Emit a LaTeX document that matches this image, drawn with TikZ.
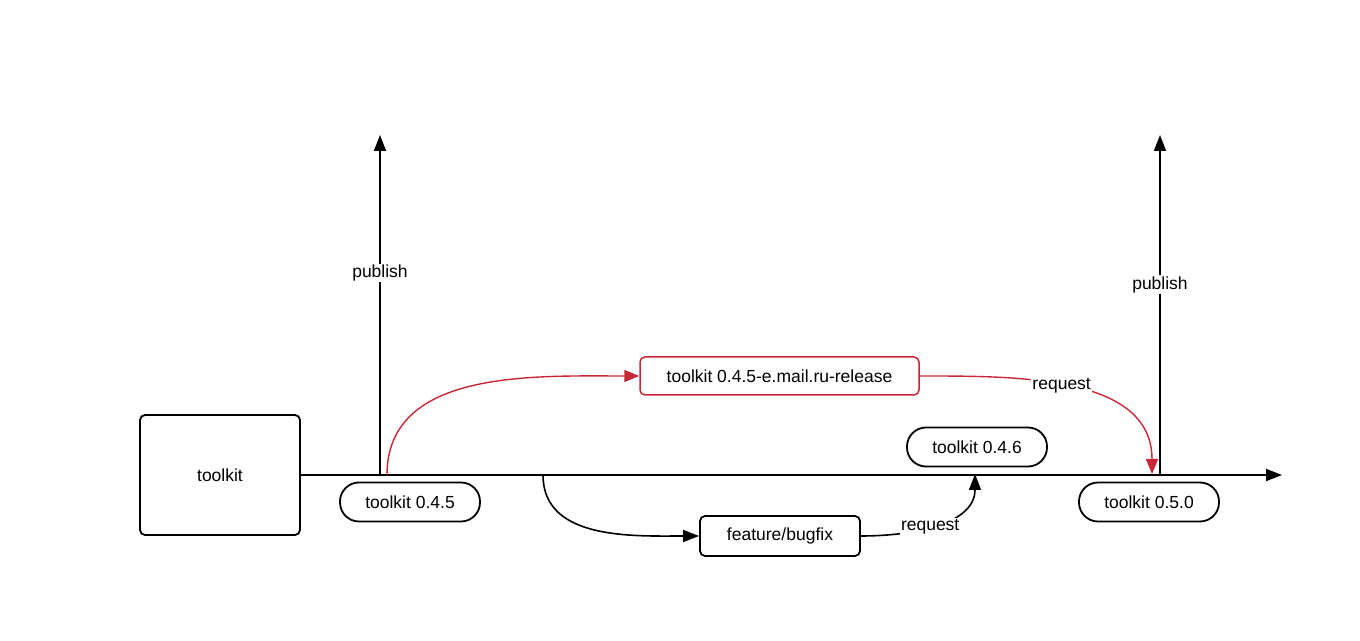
\documentclass[tikz,border=0pt]{standalone}
\usepackage{fontspec}
\setmainfont{Liberation Sans}
\usetikzlibrary{shapes,arrows.meta,positioning}
\definecolor{relred}{RGB}{201,39,56}

\begin{document}
\begin{tikzpicture}[x=1pt,y=1pt,->,>={Triangle[length=16pt,width=12pt]},line width=1.8pt,font=\fontsize{17.5}{21}\selectfont]
                \tikzstyle{repo}=[draw,rounded corners=5pt,minimum width=160pt,minimum height=120pt,inner sep=0pt]
                \tikzstyle{version}=[draw,rounded corners=19pt,minimum width=140pt,minimum height=39pt,inner sep=0pt]
                \tikzstyle{branch}=[draw,rounded corners=5pt,minimum width=160pt,minimum height=40pt,inner sep=0pt]
                \tikzstyle{release}=[branch,draw=relred,line width=1.5pt,minimum width=279pt,minimum height=38pt]
                \tikzstyle{tag}=[fill=white,inner sep=1pt,text=black]
                \tikzstyle{redline}=[draw=relred,line width=1.4pt,>={Triangle[length=15pt,width=12pt]}]

                \useasboundingbox (0,0) rectangle (1360,640);

                \node[repo] (toolkit) at (220,165) {toolkit};
                \coordinate (trunk_end) at (1282,165);
                \coordinate (v_045) at (380,165);
                \coordinate (v_050) at (1160,165);
                \coordinate (pub_045) at (380,505);
                \coordinate (pub_050) at (1160,505);
                \coordinate (fork_rel) at (387,165);
                \coordinate (fork_fb) at (543,165);
                \coordinate (merge_fb) at (975,166);
                \coordinate (merge_rel) at (1152,166);

                \node[version] (t_045) at (410,138) {toolkit 0.4.5};
                \node[version] (t_046) at (977,193) {toolkit 0.4.6};
                \node[version] (t_050) at (1149,138) {toolkit 0.5.0};
                \node[release] (rel) at (779.5,264) {toolkit 0.4.5-e.mail.ru-release};
                \node[branch] (fb) at (780,104) {feature/bugfix};

                \path (toolkit)  edge                                          (trunk_end);
                \path (v_045)    edge          node[tag,pos=0.595]   {publish}  (pub_045);
                \path (v_050)    edge          node[tag,pos=0.56]    {publish}  (pub_050);
                \path (fork_rel) edge  [redline,out=90,in=180]                  (rel);
                \path (rel)      edge  [redline,out=0,in=90]   node[tag,pos=0.46] {request} (merge_rel);
                \path (fork_fb)  edge  [line width=1.6pt,out=-90,in=180]        (fb);
                \path (fb)       edge  [line width=1.6pt,out=0,in=-90] node[tag,pos=0.45] {request} (merge_fb);
\end{tikzpicture}
\end{document}
